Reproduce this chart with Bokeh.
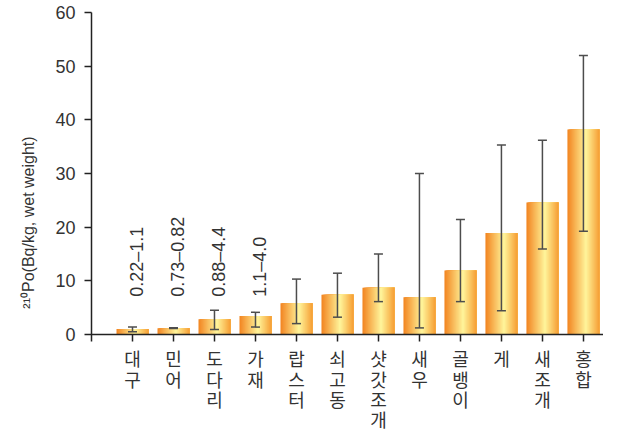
import numpy as np
from bokeh.plotting import figure
from bokeh.models import (Range1d, FixedTicker, Whisker, TeeHead, ColumnDataSource,
                          CustomLabelingPolicy, Title)
from bokeh.core.properties import value
from bokeh.embed import file_html
from bokeh.resources import INLINE

categories = ["대구", "민어", "도다리", "가재", "랍스터", "쇠고동", "샷갓조개", "새우", "골뱅이", "게", "새조개", "홍합"]
means = [1.0, 1.15, 2.8, 3.4, 5.8, 7.4, 8.7, 6.9, 11.9, 18.9, 24.6, 38.2]
err_low = [0.5, 1.1, 0.9, 1.35, 2.0, 3.2, 6.1, 1.2, 6.1, 4.4, 15.9, 19.2]
err_high = [1.35, 1.25, 4.5, 4.1, 10.3, 11.4, 15.0, 30.0, 21.4, 35.3, 36.2, 52.0]
range_labels = ["0.22\u20131.1", "0.73\u20130.82", "0.88\u20134.4", "1.1\u20134.0"]
y_ticks = [0, 10, 20, 30, 40, 50, 60]
y_title = "\u00b2\u00b9\u2070Po(Bq/kg, wet weight)"

TXT = "#333333"
NUM_FONT = "Liberation Sans"
KR_FONT = "Noto Sans CJK KR"

Y_MIN = -18.3   # room below the x axis for the stacked category labels
p = figure(width=603, height=432, output_backend="svg", toolbar_location=None,
           x_axis_location="above",
           x_range=Range1d(-1, 11.49), y_range=Range1d(Y_MIN, 60),
           min_border_left=91, min_border_right=0, min_border_top=12, min_border_bottom=0)
p.outline_line_color = None
p.xgrid.grid_line_color = None
p.ygrid.grid_line_color = None
p.background_fill_color = "white"

xs = np.arange(len(categories))

# gradient bars built from nested strips (each runs to the bar's right edge)
bar_w = 0.78
n_strips = 32
stops = [(0.0, (242, 132, 32)), (0.58, (255, 245, 155)), (1.0, (246, 158, 52))]

def grad(t):
    for (t0, c0), (t1, c1) in zip(stops[:-1], stops[1:]):
        if t0 <= t <= t1:
            f = (t - t0) / (t1 - t0)
            c = [int(round(a + (b - a) * f)) for a, b in zip(c0, c1)]
            return "#%02x%02x%02x" % tuple(c)
    return "#%02x%02x%02x" % stops[-1][1]

sw = bar_w / n_strips
for k in range(n_strips):
    t = (k + 0.5) / n_strips
    w = bar_w - k * sw
    off = bar_w / 2 - w / 2
    p.vbar(x=xs + off, top=means, bottom=0, width=w,
           fill_color=grad(t), line_color=None)

src = ColumnDataSource(dict(x=xs, lo=err_low, hi=err_high))
wh = Whisker(source=src, base="x", lower="lo", upper="hi",
             line_color="#4d4d4d", line_width=1.5, level="overlay",
             upper_head=TeeHead(size=9, line_color="#4d4d4d", line_width=1.5),
             lower_head=TeeHead(size=9, line_color="#4d4d4d", line_width=1.5))
p.add_layout(wh)

# range texts
p.text(x=xs[:len(range_labels)], y=[7.0] * len(range_labels), text=range_labels,
       angle=np.pi / 2, text_align="left", text_baseline="middle",
       text_font=value(NUM_FONT), text_font_size="18px", text_color=TXT,
       x_offset=5)

# category labels: one syllable per line, stacked under each tick
line_gap = 20.3
first_line = 24
lx, ly, lt, loff = [], [], [], []
for i, c in zip(xs, categories):
    for j, ch in enumerate(c):
        lx.append(i)
        ly.append(0)
        lt.append(ch)
        loff.append(first_line + line_gap * j)
p.text(x=lx, y=ly, text=lt, y_offset=loff, text_align="center", text_baseline="middle",
       text_font=value(KR_FONT), text_font_size="18px", text_color=TXT)

# x axis drawn at y = 0 with ticks pointing down
ax = p.xaxis[0]
ax.fixed_location = 0
ax.ticker = FixedTicker(ticks=list(xs))
ax.major_label_policy = CustomLabelingPolicy(
    code="for (const i of Array.from(indices)) { indices.unset(i) }\nreturn indices")
ax.major_label_text_font_size = "10px"
ax.major_label_standoff = 0
ax.major_tick_out = 0
ax.major_tick_in = 7
ax.minor_tick_out = 0
ax.minor_tick_in = 0
ax.axis_line_color = "#222222"
ax.axis_line_width = 1.5
ax.major_tick_line_color = "#222222"
ax.major_tick_line_width = 1.5

ay = p.yaxis[0]
ay.bounds = (-1.3, 60)
ay.ticker = FixedTicker(ticks=y_ticks)
ay.major_label_text_font = NUM_FONT
ay.major_label_text_font_size = "18px"
ay.major_label_text_color = TXT
ay.major_label_standoff = 9
ay.major_tick_out = 7
ay.major_tick_in = 0
ay.minor_tick_out = 0
ay.minor_tick_in = 0
ay.axis_line_color = "#222222"
ay.axis_line_width = 1.5
ay.major_tick_line_color = "#222222"
ay.major_tick_line_width = 1.5

# y axis title as a left-side Title so it can be shifted upward
p.add_layout(Title(text=y_title, align="center", offset=50, standoff=32,
                   text_font=NUM_FONT, text_font_size="16px", text_font_style="normal",
                   text_color=TXT), "left")

open("out.html", "w").write(file_html(p, INLINE))
